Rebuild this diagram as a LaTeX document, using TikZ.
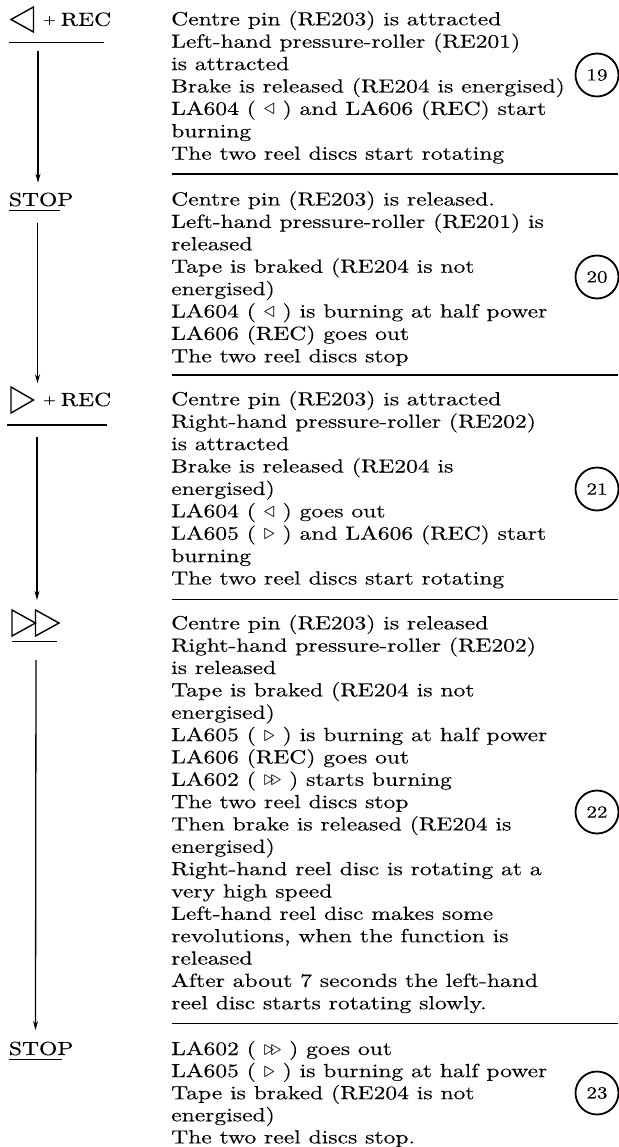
\documentclass[tikz,border=0pt]{standalone}
\usepackage{fontspec}
\usepackage{graphicx}
\setmainfont{lmroman10-regular}[Extension=.otf, FakeStretch=1.24, FakeBold=0.2]
\usetikzlibrary{arrows.meta}
\newcommand{\tl}{\smash{\scalebox{1.3}{$\triangleleft$}}}
\newcommand{\tr}{\smash{\scalebox{1.3}{$\triangleright$}}}
\newcommand{\ttr}{\smash{\scalebox{1.25}{$\triangleright\mkern-3mu\triangleright$}}}
\newcommand{\plusrec}{\raisebox{2pt}{\fontsize{13}{13}\selectfont +}\hspace{5pt}REC}
\begin{document}
\begin{tikzpicture}[x=1pt,y=-1pt,
  txt/.style={anchor=base west, inner sep=0pt, font=\fontsize{19}{22}\selectfont},
  lbl/.style={anchor=base west, inner sep=0pt, font=\fontsize{19}{22}\selectfont},
  rule/.style={line width=1.3pt},
  sep/.style={line width=1.5pt},
  flow/.style={line width=1.3pt, -{Stealth[length=9pt,width=5pt]}},
  tri/.style={line width=1.4pt, line join=miter},
  num/.style={circle, draw, line width=1.8pt, minimum size=43pt, inner sep=0pt, font=\fontsize{17}{17}\selectfont}]
\useasboundingbox[fill=white] (0,0) rectangle (618,1147);

% ---------- right-hand text ----------
\foreach \t [count=\i from 0] in {{Centre pin (RE203) is attracted},{Left-hand pressure-roller (RE201)},{is attracted},{Brake is released (RE204 is energised)},{LA604 ( \tl\ ) and LA606 (REC) start},{burning},{The two reel discs start rotating}}
  \node[txt] (sa\i) at (171,{25.3+22.4*\i}) {\t};

\foreach \t [count=\i from 0] in {{Centre pin (RE203) is released.},{Left-hand pressure-roller (RE201) is},{released},{Tape is braked (RE204 is not},{energised)},{LA604 ( \tl\ ) is burning at half power},{LA606 (REC) goes out},{The two reel discs stop}}
  \node[txt] (sb\i) at (171,{205.5+22.4*\i}) {\t};

\foreach \t [count=\i from 0] in {{Centre pin (RE203) is attracted},{Right-hand pressure-roller (RE202)},{is attracted},{Brake is released (RE204 is},{energised)},{LA604 ( \tl\ ) goes out},{LA605 ( \tr\ ) and LA606 (REC) start},{burning},{The two reel discs start rotating}}
  \node[txt] (sc\i) at (171,{405.3+22.4*\i}) {\t};

\foreach \t [count=\i from 0] in {{Centre pin (RE203) is released},{Right-hand pressure-roller (RE202)},{is released},{Tape is braked (RE204 is not},{energised)},{LA605 ( \tr\ ) is burning at half power},{LA606 (REC) goes out},{LA602 ( \ttr\ ) starts burning},{The two reel discs stop},{Then brake is released (RE204 is},{energised)},{Right-hand reel disc is rotating at a},{very high speed},{Left-hand reel disc makes some},{revolutions, when the function is},{released},{After about 7 seconds the left-hand},{reel disc starts rotating slowly.}}
  \node[txt] (sd\i) at (171,{629.3+22.35*\i}) {\t};

\foreach \t [count=\i from 0] in {{LA602 ( \ttr\ ) goes out},{LA605 ( \tr\ ) is burning at half power},{Tape is braked (RE204 is not},{energised)},{The two reel discs stop.}}
  \node[txt] (se\i) at (171,{1055+22.1*\i}) {\t};

% ---------- separators ----------
\foreach \y [count=\k] in {174,375,599.3,1023.3}{
  \coordinate (sepL\k) at (172,\y);
  \coordinate (sepR\k) at (618,\y);
  \draw[sep] (sepL\k) -- (sepR\k);
}

% ---------- circled numbers ----------
\node[num] (c19) at (597,75) {19};
\node[num] (c20) at (597,277) {20};
\node[num] (c21) at (597,489) {21};
\node[num] (c22) at (597,812) {22};
\node[num] (c23) at (597,1093) {23};

% ---------- left-hand labels ----------
\draw[tri] (33.5,7) -- (33.5,32) -- (11,19.5) -- cycle;
\node[lbl] (l1) at (43,25.8) {\plusrec};
\draw[rule] (8.7,42.3) -- (104,42.3);

\node[lbl] (l2) at (8.7,206) {STOP};
\draw[rule] (8.7,210.7) -- (60,210.7);

\draw[tri] (11,387) -- (11,413) -- (33.5,400) -- cycle;
\node[lbl] (l3) at (43,406) {\plusrec};
\draw[rule] (7,425) -- (107,425);

\draw[tri] (12,610) -- (12,636) -- (35.5,623) -- cycle;
\draw[tri] (35.5,610) -- (35.5,636) -- (59,623) -- cycle;
\draw[rule] (12,641.7) -- (57,641.7);

\node[lbl] (l5) at (8.7,1055) {STOP};
\draw[rule] (8.7,1059.3) -- (62,1059.3);

% ---------- flow arrows ----------
\coordinate (a1s) at (38,50.7);   \coordinate (a1e) at (38,182.7);
\coordinate (a2s) at (37.5,222.7); \coordinate (a2e) at (37.5,383.3);
\coordinate (a3s) at (37,436.7);  \coordinate (a3e) at (37,600);
\coordinate (a4s) at (36,660);    \coordinate (a4e) at (35.5,1030);
\draw[flow] (a1s) -- (a1e);
\draw[flow] (a2s) -- (a2e);
\draw[flow] (a3s) -- (a3e);
\draw[flow] (a4s) -- (a4e);
\end{tikzpicture}
\end{document}
